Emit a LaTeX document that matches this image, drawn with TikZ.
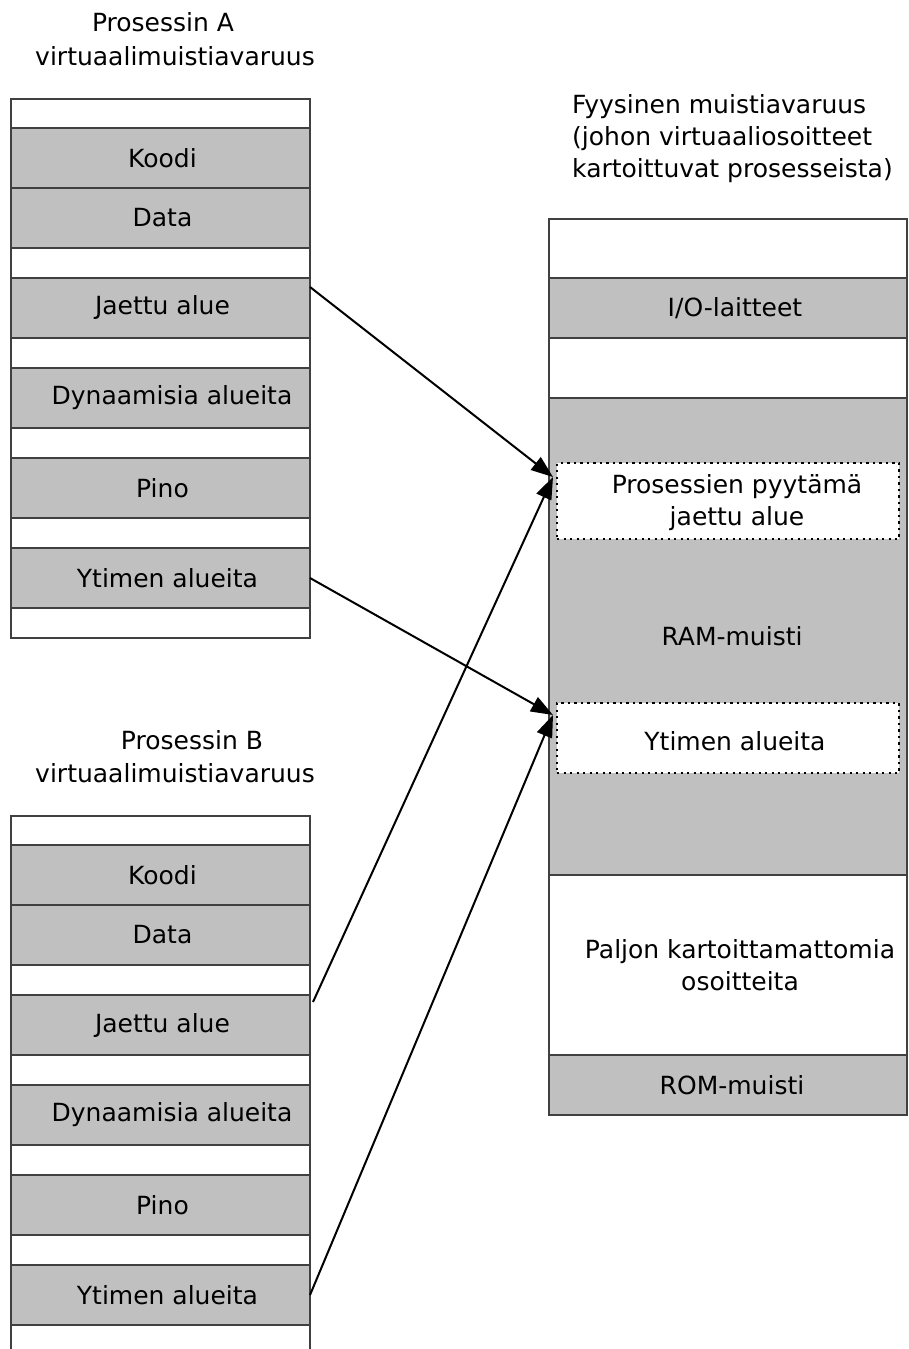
\documentclass[tikz,border=0pt]{standalone}
\usepackage{fontspec}
\setmainfont{DejaVu Sans}
\usetikzlibrary{arrows.meta}
\definecolor{fillgray}{RGB}{192,192,192}
\definecolor{edgegray}{RGB}{64,64,64}
\begin{document}
\begin{tikzpicture}[x=1pt,y=-1pt,
  memrow/.style={draw=edgegray, line width=1.7pt, inner sep=0pt, outer sep=0pt},
  colA/.style={memrow, minimum width=299pt},
  colR/.style={memrow, minimum width=358pt},
  grayrow/.style={fill=fillgray},
  whiterow/.style={fill=white},
  txt/.style={font=\fontsize{25}{32}\selectfont, inner sep=0pt, align=center, text=black},
  dbox/.style={draw=black, dash pattern=on 2.2pt off 4.3pt, fill=white, line width=1.4pt, inner sep=0pt, outer sep=0pt, minimum width=342pt},
  link/.style={line width=2pt, -{Triangle[length=22pt,width=16pt]}}]
\useasboundingbox (0,0) rectangle (908,1349);

% ---------- Process A ----------
\node[txt] (tA1) at (163,22) {Prosessin A};
\node[txt] (tA2) at (175,56) {virtuaalimuistiavaruus};

\node[colA, whiterow, minimum height=29pt] (aW1) at (160.5,113.5) {};
\node[colA, grayrow, minimum height=60pt, label={[txt,xshift=2pt]center:Koodi}] (aKoodi) at (160.5,158) {};
\node[colA, grayrow, minimum height=60pt, label={[txt,xshift=2pt]center:Data}] (aData) at (160.5,218) {};
\node[colA, whiterow, minimum height=30pt] (aW2) at (160.5,263) {};
\node[colA, grayrow, minimum height=60pt, label={[txt,xshift=2pt]center:Jaettu alue}] (aJaettu) at (160.5,308) {};
\node[colA, whiterow, minimum height=30pt] (aW3) at (160.5,353) {};
\node[colA, grayrow, minimum height=60pt, label={[txt,xshift=11.5pt]center:Dynaamisia alueita}] (aDyn) at (160.5,398) {};
\node[colA, whiterow, minimum height=30pt] (aW4) at (160.5,443) {};
\node[colA, grayrow, minimum height=60pt, label={[txt,xshift=2pt]center:Pino}] (aPino) at (160.5,488) {};
\node[colA, whiterow, minimum height=30pt] (aW5) at (160.5,533) {};
\node[colA, grayrow, minimum height=60pt, label={[txt,xshift=7pt]center:Ytimen alueita}] (aYtimen) at (160.5,578) {};
\node[colA, whiterow, minimum height=30pt] (aW6) at (160.5,623) {};

% ---------- Process B ----------
\node[txt] (tB1) at (192,740) {Prosessin B};
\node[txt] (tB2) at (175,773) {virtuaalimuistiavaruus};

\node[colA, whiterow, minimum height=29pt] (bW1) at (160.5,830.5) {};
\node[colA, grayrow, minimum height=60pt, label={[txt,xshift=2pt]center:Koodi}] (bKoodi) at (160.5,875) {};
\node[colA, grayrow, minimum height=60pt, label={[txt,xshift=2pt]center:Data}] (bData) at (160.5,935) {};
\node[colA, whiterow, minimum height=30pt] (bW2) at (160.5,980) {};
\node[colA, grayrow, minimum height=60pt, label={[txt,xshift=2pt]center:Jaettu alue}] (bJaettu) at (160.5,1025) {};
\node[colA, whiterow, minimum height=30pt] (bW3) at (160.5,1070) {};
\node[colA, grayrow, minimum height=60pt, label={[txt,xshift=11.5pt]center:Dynaamisia alueita}] (bDyn) at (160.5,1115) {};
\node[colA, whiterow, minimum height=30pt] (bW4) at (160.5,1160) {};
\node[colA, grayrow, minimum height=60pt, label={[txt,xshift=2pt]center:Pino}] (bPino) at (160.5,1205) {};
\node[colA, whiterow, minimum height=30pt] (bW5) at (160.5,1250) {};
\node[colA, grayrow, minimum height=60pt, label={[txt,xshift=7pt]center:Ytimen alueita}] (bYtimen) at (160.5,1295) {};
\draw[draw=edgegray, line width=1.7pt] (bYtimen.south west) -- ++(0,30);
\draw[draw=edgegray, line width=1.7pt] (bYtimen.south east) -- ++(0,30);

% ---------- Physical memory ----------
\node[txt, align=left, anchor=west] (tR) at (572,139) {Fyysinen muistiavaruus\\(johon virtuaaliosoitteet\\kartoittuvat prosesseista)};

\node[colR, whiterow, minimum height=59pt] (rW1) at (728,248.5) {};
\node[colR, grayrow, minimum height=60pt, label={[txt,xshift=7pt]center:I/O-laitteet}] (rIO) at (728,308) {};
\node[colR, whiterow, minimum height=60pt] (rW2) at (728,368) {};
\node[colR, grayrow, minimum height=477pt, label={[txt,xshift=4pt]center:RAM-muisti}] (rRAM) at (728,636.5) {};
\node[colR, whiterow, minimum height=180pt, label={[txt,xshift=12pt]center:Paljon kartoittamattomia\\osoitteita}] (rW3) at (728,965) {};
\node[colR, grayrow, minimum height=60pt, label={[txt,xshift=4pt]center:ROM-muisti}] (rROM) at (728,1085) {};

\node[dbox, minimum height=76pt, label={[txt,xshift=9pt,yshift=-2pt]center:Prosessien pyytämä\\jaettu alue}] (d1) at (728,501) {};
\node[dbox, minimum height=70pt, label={[txt,xshift=7pt,yshift=-3pt]center:Ytimen alueita}] (d2) at (728,738) {};

% ---------- Mappings ----------
\coordinate (t1) at (553,477);
\coordinate (t2) at (553,715);
\draw[link] ([yshift=-9pt]aJaettu.north east) -- (t1);
\draw[link] ([shift={(3pt,-7pt)}]bJaettu.north east) -- (t1);
\draw[link] (aYtimen.east) -- (t2);
\draw[link] (bYtimen.east) -- (t2);
\end{tikzpicture}
\end{document}
